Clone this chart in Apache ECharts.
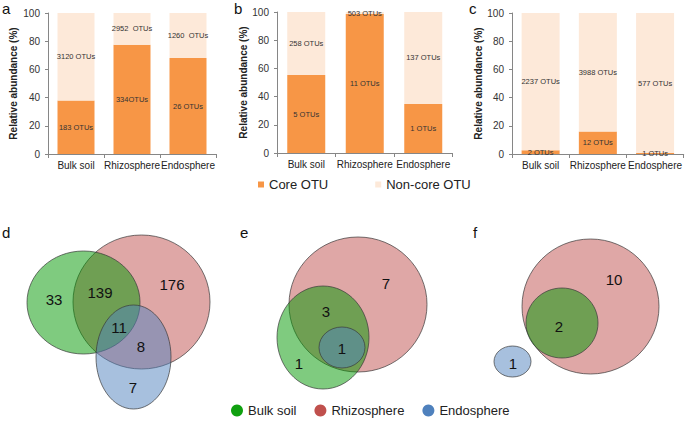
<!DOCTYPE html>
<html>
<head>
<meta charset="utf-8">
<script src="https://cdn.jsdelivr.net/npm/echarts@6/dist/echarts.min.js"></script>
<style>
html,body{margin:0;padding:0;background:#fff;}
#chart{width:685px;height:421px;}
</style>
</head>
<body>
<div id="chart"></div>
<script>
// ---------- Data ----------
const categories = ['Bulk soil', 'Rhizosphere', 'Endosphere'];
const yTicks = [0, 20, 40, 60, 80, 100];

// Panel a
const coreA = [38, 77.5, 68];
const nonCoreA = [62, 22.5, 32];
const coreLabelsA = ['183 OTUs', '334OTUs', '26 OTUs'];
const nonCoreLabelsA = ['3120 OTUs', '2952  OTUs', '1260  OTUs'];
// Panel b
const coreB = [55.3, 98.5, 34.8];
const nonCoreB = [44.7, 1.5, 65.2];
const coreLabelsB = ['5 OTUs', '11 OTUs', '1 OTUs'];
const nonCoreLabelsB = ['258 OTUs', '503 OTUs', '137 OTUs'];
// Panel c
const coreC = [2.7, 16, 0.7];
const nonCoreC = [97.3, 84, 99.3];
const coreLabelsC = ['2 OTUs', '12 OTUs', '1 OTUs'];
const nonCoreLabelsC = ['2237 OTUs', '3988 OTUs', '577 OTUs'];

// Venn sets (panels d, e, f): [centerX, centerY, radiusX, radiusY] in figure units
const vennBulkSoil = [[83.5, 302.5, 56.5, 51.5], [323, 337.5, 46, 51.5], [562, 323, 36, 35]];
const vennRhizosphere = [[141.5, 302, 68.5, 67], [358, 304.5, 69, 67.5], [590.5, 306.5, 68.5, 67.5]];
const vennEndosphere = [[133.5, 357, 37.5, 52], [342, 347.5, 23, 20.5], [512.5, 361.5, 18.5, 15.5]];
// Venn region counts: [x, y] and text
const vennCountPos = [[54, 299], [100, 292], [172, 284], [119, 327], [141, 346], [133, 387],
                      [386, 283], [326, 311], [342, 348], [299, 363],
                      [614, 279], [559, 326], [513, 363]];
const vennCountText = ['33', '139', '176', '11', '8', '7',
                       '7', '3', '1', '1',
                       '10', '2', '1'];

// ---------- Styles ----------
const FONT = '"Liberation Sans", Arial, sans-serif';
const CORE = '#F79646';
const NONCORE = '#FDE9D9';
const AXIS = '#868686';

const grids = [
  {left: 48, top: 13, width: 168, height: 141},
  {left: 277, top: 12, width: 175.5, height: 141},
  {left: 512, top: 13, width: 172, height: 141},
  {left: 0, top: 0, width: 685, height: 421}
];
const nameGaps = [30, 26, 26];

const xAxes = [0, 1, 2].map(i => ({
  type: 'category', gridIndex: i, data: categories,
  axisLine: {show: true, lineStyle: {color: AXIS, width: 1}},
  axisTick: {show: true, length: 4, lineStyle: {color: AXIS}},
  axisLabel: {fontFamily: FONT, fontSize: 10, color: '#222', margin: 6, interval: 0}
}));
xAxes.push({type: 'value', gridIndex: 3, min: 0, max: 685, show: false});

const yAxes = [0, 1, 2].map(i => ({
  type: 'value', gridIndex: i, min: 0, max: 100, interval: 20,
  name: 'Relative abundance (%)', nameLocation: 'middle', nameRotate: 90, nameGap: nameGaps[i],
  nameTextStyle: {fontFamily: FONT, fontSize: 10, fontWeight: 'bold', color: '#222'},
  axisLine: {show: true, lineStyle: {color: AXIS, width: 1}},
  axisTick: {show: true, length: 3, lineStyle: {color: AXIS}},
  splitLine: {show: false},
  axisLabel: {fontFamily: FONT, fontSize: 10, color: '#333', margin: 8,
    formatter: v => yTicks.includes(v) ? String(v) : ''}
}));
yAxes.push({type: 'value', gridIndex: 3, min: 0, max: 421, inverse: true, show: false});

function barPair(idx, core, nonCore, coreLabels, nonCoreLabels, bw) {
  const lbl = (arr) => ({
    show: true, position: 'inside', fontFamily: FONT, fontSize: 7.5, color: '#333',
    formatter: p => arr[p.dataIndex]
  });
  return [
    {name: 'Core OTU', type: 'bar', stack: 's' + idx, xAxisIndex: idx, yAxisIndex: idx,
     data: core, barWidth: bw, itemStyle: {color: CORE}, label: lbl(coreLabels)},
    {name: 'Non-core OTU', type: 'bar', stack: 's' + idx, xAxisIndex: idx, yAxisIndex: idx,
     data: nonCore, barWidth: bw, itemStyle: {color: NONCORE}, label: lbl(nonCoreLabels)}
  ];
}

function vennSeries(name, data, color, rgba) {
  return {
    name: name, type: 'custom', coordinateSystem: 'cartesian2d', xAxisIndex: 3, yAxisIndex: 3,
    itemStyle: {color: color}, data: data, silent: true,
    renderItem: function (params, api) {
      const c = api.coord([api.value(0), api.value(1)]);
      const s = api.size([api.value(2), api.value(3)]);
      return {
        type: 'ellipse',
        shape: {cx: c[0], cy: c[1], rx: s[0], ry: s[1]},
        style: {fill: rgba, stroke: '#3a3a3a', lineWidth: 0.7}
      };
    }
  };
}

const series = [].concat(
  barPair(0, coreA, nonCoreA, coreLabelsA, nonCoreLabelsA, 37),
  barPair(1, coreB, nonCoreB, coreLabelsB, nonCoreLabelsB, 38),
  barPair(2, coreC, nonCoreC, coreLabelsC, nonCoreLabelsC, 38),
  [
    vennSeries('Rhizosphere', vennRhizosphere, '#C0504D', 'rgba(192,80,77,0.5)'),
    vennSeries('Bulk soil', vennBulkSoil, '#10A010', 'rgba(0,152,0,0.5)'),
    vennSeries('Endosphere', vennEndosphere, '#4F81BD', 'rgba(79,129,189,0.5)'),
    {
      name: 'counts', type: 'custom', coordinateSystem: 'cartesian2d', xAxisIndex: 3, yAxisIndex: 3,
      data: vennCountPos, silent: true, z: 5,
      renderItem: function (params, api) {
        const c = api.coord([api.value(0), api.value(1)]);
        return {
          type: 'text',
          style: {x: c[0], y: c[1], text: vennCountText[params.dataIndex], fill: '#111',
            font: '15px ' + FONT, textAlign: 'center', textVerticalAlign: 'middle'}
        };
      }
    }
  ]
);

const letters = [['a', 2, 1], ['b', 234, 1], ['c', 469, 1], ['d', 2, 225], ['e', 240, 225], ['f', 473, 225]];

const chart = echarts.init(document.getElementById('chart'), null, {renderer: 'svg'});
chart.setOption({
  animation: false,
  backgroundColor: '#fff',
  grid: grids,
  xAxis: xAxes,
  yAxis: yAxes,
  legend: [
    {data: ['Core OTU', 'Non-core OTU'], left: 253, top: 173, icon: 'rect', itemWidth: 6, itemHeight: 6,
     itemGap: 47, textStyle: {fontFamily: FONT, fontSize: 13, color: '#222'}, selectedMode: false},
    {data: ['Bulk soil', 'Rhizosphere', 'Endosphere'], left: 226, top: 399, icon: 'circle',
     itemWidth: 12, itemHeight: 12, itemGap: 18,
     textStyle: {fontFamily: FONT, fontSize: 13, color: '#222'}, selectedMode: false}
  ],
  graphic: letters.map(l => ({
    type: 'text', left: l[1], top: l[2],
    style: {text: l[0], font: '15px ' + FONT, fill: '#111'}
  })),
  series: series
});
</script>
</body>
</html>
